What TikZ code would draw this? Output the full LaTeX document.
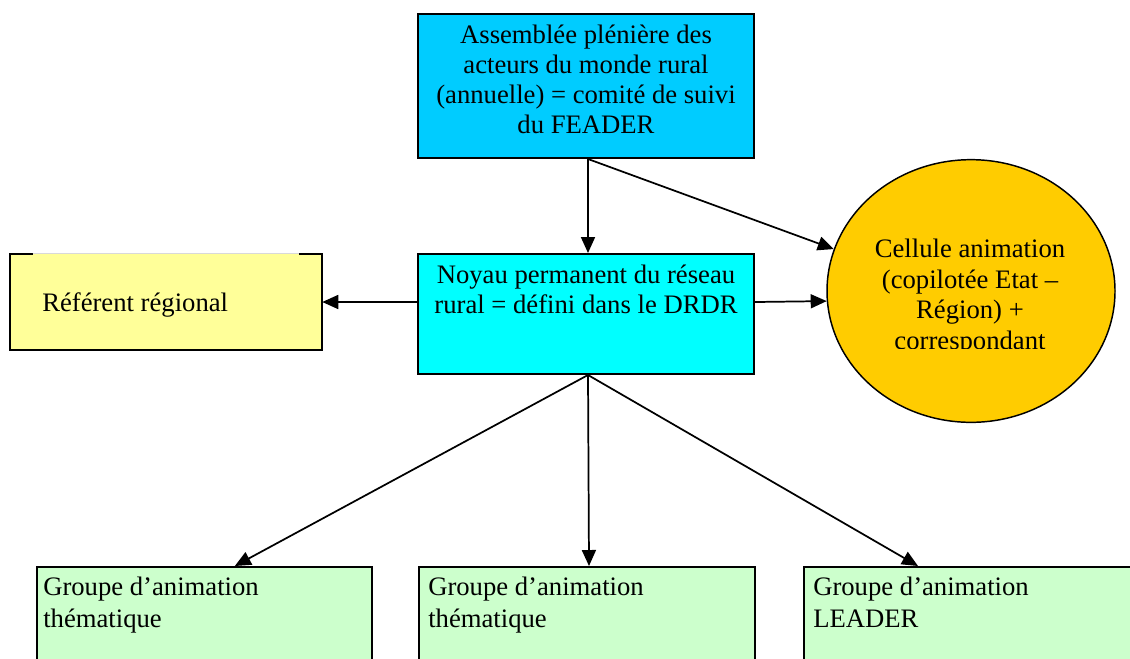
\documentclass[tikz,border=0pt]{standalone}
\usepackage{fontspec}
\setmainfont{Liberation Serif}
\usetikzlibrary{arrows.meta,shapes.geometric}
\definecolor{topblue}{HTML}{00CCFF}
\definecolor{coreblue}{HTML}{00FFFF}
\definecolor{refyellow}{HTML}{FFFF99}
\definecolor{cellorange}{HTML}{FFCC00}
\definecolor{grpgreen}{HTML}{CCFFCC}
\begin{document}
\begin{tikzpicture}[x=0.75pt,y=-0.75pt,
  box/.style={draw=black,line width=1.5pt,rectangle,inner sep=0pt},
  lbl/.style={font=\fontsize{20}{22.5}\selectfont,inner sep=0pt},
  arr/.style={line width=1.3pt,-{Triangle[length=12pt,width=10.5pt]}}]
\useasboundingbox (0,0) rectangle (1130,658);
\begin{scope}
\clip (0,0) rectangle (1130,658);
% boxes
\node[box,fill=topblue,minimum width=252pt,minimum height=108pt] (top) at (586,86) {};
\node[box,fill=coreblue,minimum width=252pt,minimum height=90pt] (core) at (586,314) {};
\node[rectangle,inner sep=0pt,fill=refyellow,minimum width=234pt,minimum height=72pt] (ref) at (166,302) {};
\draw[line width=1.5pt] ([xshift=23*0.75pt]ref.north west) -- (ref.north west) -- (ref.south west) -- (ref.south east) -- (ref.north east) -- ([xshift=-23*0.75pt]ref.north east);
\draw[gray!30,line width=0.6pt] ([xshift=23*0.75pt]ref.north west) -- ([xshift=-23*0.75pt]ref.north east);
\node[ellipse,draw=black,line width=1.1pt,fill=cellorange,inner sep=0pt,minimum width=216pt,minimum height=197pt] (cell) at (971,291) {};
\node[box,fill=grpgreen,minimum width=251pt,minimum height=110pt,anchor=north west] (g1) at (36,566) {};
\node[box,fill=grpgreen,minimum width=252pt,minimum height=110pt,anchor=north west] (g2) at (418,566) {};
\node[box,fill=grpgreen,minimum width=252pt,minimum height=110pt,anchor=north west] (g3) at (803,566) {};
% texts
\node[lbl,align=center] (toptext) at (586,79) {Assemblée plénière des\\acteurs du monde rural\\(annuelle) = comité de suivi\\du FEADER};
\node[lbl,align=center] (coretext) at (586,289) {Noyau permanent du réseau\\rural = défini dans le DRDR};
\node[lbl,anchor=west] (reftext) at (42,305) {Référent régional};
\begin{scope}
\clip (820,180) rectangle (1125,348);
\node[lbl,align=center,font=\fontsize{20}{23}\selectfont] (celltext) at (970,297) {Cellule animation\\(copilotée Etat –\\Région) +\\correspondant};
\end{scope}
\node[lbl,align=left,anchor=north west,font=\fontsize{20}{23.5}\selectfont] (g1text) at (43,577) {Groupe d’animation\\thématique};
\node[lbl,align=left,anchor=north west,font=\fontsize{20}{23.5}\selectfont] (g2text) at (428,577) {Groupe d’animation\\thématique};
\node[lbl,align=left,anchor=north west,font=\fontsize{20}{23.5}\selectfont] (g3text) at (813,577) {Groupe d’animation\\LEADER};
% connector anchors
\coordinate (t1) at ([xshift=30.5*0.75pt]g1.north);
\coordinate (t2) at ([xshift=2*0.75pt]g2.north);
\coordinate (t3) at ([xshift=-54*0.75pt]g3.north);
\coordinate (s0) at ([xshift=2*0.75pt]top.south);
\coordinate (s1) at ([xshift=2*0.75pt]core.south);
\coordinate (cw) at ([yshift=9pt]core.west);
\coordinate (ce) at ([yshift=9pt]core.east);
% connectors
\draw[arr] (s0) -- ([xshift=2*0.75pt]core.north);
\draw[arr] (s0) -- (cell.163);
\draw[arr] (cw) -- (ref.east);
\draw[arr] (ce) -- (cell.184);
\draw[arr] (s1) -- (t1);
\draw[arr] (s1) -- (t2);
\draw[arr] (s1) -- (t3);
\end{scope}
\end{tikzpicture}
\end{document}
